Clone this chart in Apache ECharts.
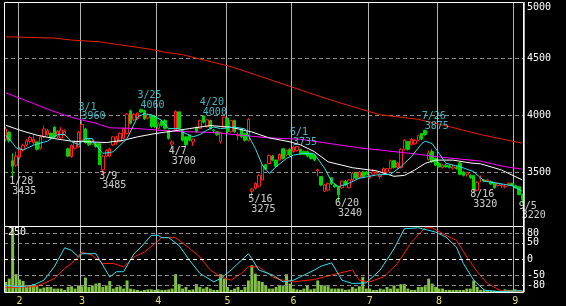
<!DOCTYPE html>
<html><head><meta charset="utf-8">
<script src="https://cdn.jsdelivr.net/npm/echarts@6/dist/echarts.min.js"></script>
<style>html,body{margin:0;padding:0;background:#000}#c{width:566px;height:306px}</style>
</head><body><div id="c"></div>
<script>
const dates = ['1/26','1/27','1/28','1/29',
'2/1','2/2','2/3','2/4','2/5','2/8','2/9','2/10','2/15','2/16','2/17','2/18','2/19','2/22','2/23','2/24','2/25','2/26',
'3/1','3/2','3/3','3/4','3/7','3/8','3/9','3/10','3/11','3/14','3/15','3/16','3/17','3/18','3/22','3/23','3/24','3/25','3/28','3/29','3/30','3/31',
'4/1','4/4','4/5','4/6','4/7','4/8','4/11','4/12','4/13','4/14','4/15','4/18','4/19','4/20','4/21','4/22','4/25','4/26','4/27','4/28',
'5/2','5/6','5/9','5/10','5/11','5/12','5/13','5/16','5/17','5/18','5/19','5/20','5/23','5/24','5/25','5/26','5/27','5/30','5/31',
'6/1','6/2','6/3','6/6','6/7','6/8','6/9','6/10','6/13','6/14','6/15','6/16','6/17','6/20','6/21','6/22','6/23','6/24','6/27','6/28','6/29','6/30',
'7/1','7/4','7/5','7/6','7/7','7/8','7/11','7/12','7/13','7/14','7/15','7/19','7/20','7/21','7/22','7/25','7/26','7/27','7/28','7/29',
'8/1','8/2','8/3','8/4','8/5','8/8','8/9','8/10','8/12','8/15','8/16','8/17','8/18','8/19','8/22','8/23','8/24','8/25','8/26','8/29','8/30','8/31',
'9/1','9/2','9/5'];

// [open, close, low, high]
const ohlc = [
[3790,3880,3770,3900],[3850,3775,3760,3860],[3600,3550,3435,3665],[3560,3640,3545,3680],
[3630,3710,3610,3720],[3700,3735,3680,3750],[3740,3775,3725,3790],[3770,3805,3750,3820],[3760,3790,3740,3825],
[3765,3700,3690,3775],[3710,3810,3700,3820],[3810,3880,3800,3910],[3830,3865,3820,3880],[3840,3800,3790,3850],
[3895,3810,3800,3905],[3815,3860,3800,3870],[3800,3870,3790,3895],[3830,3860,3820,3875],[3705,3640,3630,3715],
[3635,3735,3625,3745],[3710,3765,3700,3775],[3720,3850,3715,3860],
[3780,3920,3770,3960],[3880,3760,3750,3890],[3780,3740,3730,3790],[3745,3770,3740,3780],[3750,3725,3715,3760],
[3750,3565,3560,3755],[3520,3640,3485,3650],[3640,3690,3630,3700],[3640,3705,3630,3715],[3740,3810,3730,3815],
[3760,3800,3740,3820],[3770,3840,3760,3850],[3795,3880,3790,3895],[3840,4010,3830,4020],[4040,3930,3920,4050],
[3960,4010,3950,4020],[3970,4020,3960,4030],[4050,4030,4020,4060],[4040,3970,3960,4050],[3975,4005,3965,4015],
[4000,3900,3890,4010],[3990,3900,3890,4000],
[3885,3925,3875,3940],[3950,3910,3900,3960],[3955,3885,3875,3965],[3865,3795,3785,3875],[3745,3765,3700,3780],
[3870,4035,3860,4045],[4030,3885,3875,4035],[3865,3780,3770,3870],[3810,3740,3730,3815],[3825,3780,3770,3830],
[3765,3790,3730,3795],[3895,3855,3845,3900],[3885,3955,3880,3960],[3995,3940,3930,4000],[3900,3960,3890,3970],
[3955,3885,3875,3960],[3870,3865,3840,3880],[3855,3830,3820,3860],[3770,3850,3750,3855],[3885,3985,3880,3990],
[3975,3855,3845,3980],[3855,3955,3850,3960],[3955,3855,3845,3960],[3820,3830,3780,3850],[3880,3810,3800,3885],
[3840,3780,3770,3845],[3780,3965,3770,3975],[3330,3350,3275,3360],[3355,3400,3345,3410],[3375,3470,3365,3480],
[3430,3560,3425,3565],[3565,3525,3515,3570],[3575,3645,3570,3655],[3640,3605,3595,3650],[3605,3550,3540,3610],
[3605,3655,3600,3665],[3705,3620,3610,3710],[3650,3690,3640,3700],[3700,3650,3640,3710],
[3680,3720,3670,3735],[3690,3725,3680,3730],[3700,3660,3650,3705],[3680,3655,3650,3690],[3680,3640,3630,3690],
[3665,3620,3610,3670],[3650,3605,3595,3655],[3510,3520,3460,3530],[3460,3385,3375,3465],[3330,3385,3325,3395],
[3340,3400,3330,3405],[3450,3395,3385,3455],[3385,3370,3360,3395],[3370,3300,3240,3375],[3360,3420,3350,3425],
[3420,3385,3375,3430],[3360,3430,3355,3440],[3430,3490,3420,3500],[3490,3445,3435,3495],[3450,3500,3440,3510],
[3500,3460,3450,3505],[3500,3475,3470,3510],
[3450,3465,3440,3480],[3480,3500,3470,3525],[3490,3500,3485,3510],[3460,3475,3440,3490],[3490,3530,3485,3540],
[3500,3530,3495,3535],[3530,3600,3525,3610],[3600,3540,3530,3605],[3540,3580,3530,3590],[3540,3700,3530,3710],
[3700,3780,3690,3790],[3770,3700,3690,3775],[3740,3790,3735,3800],[3750,3780,3740,3790],[3780,3820,3770,3830],
[3840,3790,3780,3845],[3865,3830,3820,3875],[3610,3670,3600,3690],[3680,3590,3580,3700],[3620,3560,3550,3630],
[3575,3545,3540,3590],[3540,3560,3530,3570],[3560,3545,3540,3570],[3555,3540,3530,3565],[3535,3545,3520,3565],
[3540,3530,3520,3560],[3580,3480,3470,3590],[3500,3470,3460,3510],[3480,3495,3460,3500],[3470,3450,3440,3480],
[3470,3345,3320,3475],[3340,3410,3330,3420],[3440,3445,3410,3470],[3430,3420,3410,3440],[3420,3430,3410,3440],
[3415,3395,3385,3425],[3400,3360,3355,3410],[3380,3400,3370,3410],[3380,3385,3360,3395],[3370,3375,3355,3385],
[3385,3400,3375,3410],[3400,3380,3375,3405],[3380,3360,3355,3390],[3370,3300,3295,3375],[3300,3255,3220,3310]
];

const volume = [38,51,250,68,48,42,19,23,30,22,13,17,19,19,13,13,13,8,19,22,13,25,22,55,19,25,32,34,19,25,
42,13,19,22,13,44,13,10,8,5,8,10,10,8,10,8,8,10,13,68,30,13,19,8,10,30,19,13,19,13,
8,8,68,51,19,8,13,19,8,19,44,102,70,42,38,25,13,13,19,25,25,68,32,13,10,8,13,25,10,13,
44,25,25,22,13,13,13,13,8,10,19,13,22,57,13,13,8,8,13,10,19,13,25,13,30,30,13,8,8,19,
19,22,51,32,19,13,13,8,8,8,8,8,8,13,13,44,19,8,8,5,5,5,5,5,10,8,8,10,5,5];

const maShort = [['1/26',3825],['1/28',3754],['1/29',3713],['2/2',3693],['2/5',3737],['2/15',3772],['2/18',3830],['2/22',3830],
['2/24',3766],['2/26',3743],['3/2',3795],['3/4',3795],['3/7',3737],['3/9',3664],['3/14',3678],['3/18',3795],['3/24',3985],
['3/28',4014],['3/30',4005],['4/4',3956],['4/6',3883],['4/11',3883],['4/12',3853],['4/15',3810],['4/19',3830],['4/21',3868],
['4/25',3897],['4/27',3883],['5/9',3897],['5/12',3880],['5/17',3708],['5/19',3561],['5/23',3488],['5/25',3547],['5/30',3620],
['6/1',3649],['6/6',3664],['6/9',3660],['6/14',3532],['6/16',3415],['6/20',3371],['6/23',3401],['6/28',3445],['7/5',3474],
['7/11',3480],['7/14',3547],['7/20',3634],['7/25',3751],['7/26',3772],['7/28',3751],['8/1',3664],['8/3',3576],['8/9',3547],
['8/16',3503],['8/19',3420],['8/25',3400],['8/31',3380],['9/5',3330]];

const maMid = [['1/26',3912],['2/2',3860],['2/8',3825],['2/17',3795],['2/24',3772],['3/10',3760],['3/17',3780],['3/24',3810],
['3/31',3839],['4/7',3860],['4/14',3883],['4/22',3910],['5/6',3895],['5/16',3853],['5/23',3801],['5/31',3766],['6/3',3740],
['6/9',3680],['6/15',3590],['6/24',3538],['7/5',3510],['7/12',3462],['7/15',3470],['7/21',3518],['7/26',3576],['7/29',3605],
['8/5',3605],['8/15',3580],['8/18',3572],['8/26',3518],['9/5',3430]];

const maLong = [['1/26',4199],['2/5',4105],['2/16',4044],['2/24',3982],['3/7',3930],['3/11',3890],['3/24',3883],['4/7',3860],
['4/25',3848],['5/23',3801],['6/3',3789],['6/28',3713],['7/21',3660],['8/3',3626],['8/18',3596],['8/29',3547],['9/5',3525]];

const maLonger = [['1/26',4693],['2/17',4682],['2/24',4664],['3/8',4649],['3/15',4626],['3/23',4605],['3/30',4582],['4/5',4556],
['4/12',4535],['4/19',4497],['5/6',4430],['5/24',4307],['6/8',4193],['6/20',4114],['7/6',4005],['7/22',3965],['8/4',3900],
['8/18',3830],['9/5',3754]];

const oscFast = [['1/26',-79],['2/1',-84],['2/5',-79],['2/10',-64],['2/17',-23],['2/22',35],['2/24',27],['2/26',7],['3/1',17],
['3/7',17],['3/11',-54],['3/15',-38],['3/17',-38],['3/23',17],['3/25',37],['3/30',73],['4/1',73],['4/4',66],['4/6',66],
['4/11',42],['4/14',-3],['4/19',-43],['4/25',-69],['4/27',-59],['5/6',-33],['5/11',-3],['5/13',17],['5/16',2],['5/18',-33],
['5/24',-48],['5/27',-69],['6/1',-64],['6/9',-33],['6/13',-21],['6/16',-11],['6/21',-64],['6/24',-74],['6/30',-72],
['7/6',-33],['7/12',32],['7/15',93],['7/22',96],['7/29',83],['8/3',68],['8/8',37],['8/10',-13],['8/16',-64],['8/19',-94],
['8/25',-99],['9/5',-96]];

const oscSlow = [['1/26',-87],['2/5',-84],['2/10',-74],['2/17',-59],['2/22',-28],['2/24',-13],['3/1',22],['3/4',12],['3/9',-13],
['3/14',-13],['3/17',-23],['3/23',7],['3/28',22],['3/31',48],['4/4',66],['4/8',66],['4/13',42],['4/19',7],['4/22',-33],
['4/27',-54],['5/6',-64],['5/11',-43],['5/13',-23],['5/18',-23],['5/24',-54],['5/26',-62],['6/1',-69],['6/9',-62],
['6/16',-48],['6/24',-33],['6/28',-64],['7/1',-69],['7/7',-54],['7/13',-13],['7/20',52],['7/26',96],['7/28',96],
['8/3',73],['8/8',58],['8/12',7],['8/17',-38],['8/22',-74],['8/26',-97],['9/5',-97]];

const lowMarks = [['1/28',3435],['3/9',3485],['4/7',3700],['5/16',3275],['6/20',3240],['8/16',3320],['9/5',3220]];
const highMarks = [['3/1',3960],['3/25',4060],['4/20',4000],['6/1',3735],['7/26',3875]];

const oscLevels = [80, 50, 0, -50, -80];
const priceTicks = {min: 3000, max: 5000, step: 500};
const volumeMax = 250;

const FONT = 'DejaVu Sans Mono';
const month = s => s.split('/')[0];
const isMonthStart = i => i > 0 && month(dates[i]) !== month(dates[i - 1]);
const vline = {show: true, interval: (i) => isMonthStart(i), lineStyle: {color: '#b4b4b4', width: 1}};

const markLabel = (color, top) => ({
  show: true,
  position: top ? [-3, 2] : [-3, -2],
  align: 'left',
  verticalAlign: top ? 'bottom' : 'top',
  formatter: p => '{d|' + p.value[0] + '}\n{p|' + p.value[1] + '}',
  rich: {
    d: {color: color, fontFamily: FONT, fontSize: 10, lineHeight: 9.5},
    p: {color: color, fontFamily: FONT, fontSize: 10, lineHeight: 9.5, padding: [0, 0, 0, 3]}
  }
});

const chart = echarts.init(document.getElementById('c'));
chart.setOption({
  backgroundColor: '#000',
  animation: false,
  grid: [
    {left: 4, top: 2, width: 520, height: 226.67},
    {left: 4, top: 226.5, width: 520, height: 66}
  ],
  xAxis: [
    {type: 'category', gridIndex: 0, data: dates, boundaryGap: true,
     axisLine: {show: false}, axisTick: {show: false}, axisLabel: {show: false}, splitLine: vline},
    {type: 'category', gridIndex: 1, data: dates, boundaryGap: true,
     axisLine: {show: false}, axisTick: {show: false},
     axisLabel: {show: true, interval: (i) => isMonthStart(i), formatter: v => month(v),
                 color: '#e8dc70', fontFamily: FONT, fontSize: 10, margin: 4},
     splitLine: vline}
  ],
  yAxis: [
    {type: 'value', gridIndex: 0, position: 'right', min: priceTicks.min, max: priceTicks.max, interval: priceTicks.step,
     axisLine: {show: false}, axisTick: {show: false},
     axisLabel: {color: '#fff', fontFamily: FONT, fontSize: 10, margin: 3, showMinLabel: false,
                 verticalAlignMaxLabel: 'top', formatter: v => String(v)},
     splitLine: {show: true, showMinLine: false, showMaxLine: false, lineStyle: {color: '#8c8c8c', type: [4, 3], width: 1}}},
    {type: 'value', gridIndex: 1, min: 0, max: volumeMax, show: false},
    {type: 'value', gridIndex: 1, min: -100, max: 100, show: false}
  ],
  series: [
    {type: 'candlestick', xAxisIndex: 0, yAxisIndex: 0, data: ohlc, barWidth: 3,
     itemStyle: {color: '#000', color0: '#00d400', borderColor: '#ff2020', borderColor0: '#00d400', borderWidth: 1}},
    {type: 'line', xAxisIndex: 0, yAxisIndex: 0, data: maLonger, symbol: 'none', lineStyle: {color: '#e82000', width: 1}},
    {type: 'line', xAxisIndex: 0, yAxisIndex: 0, data: maLong, symbol: 'none', lineStyle: {color: '#ff00ff', width: 1}},
    {type: 'line', xAxisIndex: 0, yAxisIndex: 0, data: maMid, symbol: 'none', lineStyle: {color: '#ffffff', width: 1}},
    {type: 'line', xAxisIndex: 0, yAxisIndex: 0, data: maShort, symbol: 'none', lineStyle: {color: '#30e0f0', width: 1}},
    {type: 'scatter', xAxisIndex: 0, yAxisIndex: 0, data: lowMarks, symbolSize: 1,
     itemStyle: {color: 'rgba(0,0,0,0)'}, label: markLabel('#ffffff', false), z: 10},
    {type: 'scatter', xAxisIndex: 0, yAxisIndex: 0, data: highMarks, symbolSize: 1,
     itemStyle: {color: 'rgba(0,0,0,0)'}, label: markLabel('#50e4f0', true), z: 10},
    {type: 'bar', xAxisIndex: 1, yAxisIndex: 1, data: volume, barWidth: '85%', itemStyle: {color: '#80c440'}},
    {type: 'line', xAxisIndex: 1, yAxisIndex: 2, data: oscSlow, symbol: 'none', lineStyle: {color: '#ff2000', width: 1}},
    {type: 'line', xAxisIndex: 1, yAxisIndex: 2, data: oscFast, symbol: 'none', lineStyle: {color: '#30e4f4', width: 1},
     markLine: {silent: true, symbol: ['none', 'none'], animation: false,
       label: {show: true, position: 'end', formatter: p => String(p.value), color: '#fff', fontFamily: FONT, fontSize: 10, distance: 3},
       data: oscLevels.map(v => ({yAxis: v, lineStyle: {color: v === 0 ? '#ffffff' : '#8c8c8c', type: [4, 3], width: 1}}))}}
  ],
  graphic: [
    {type: 'rect', silent: true, z: 100, shape: {x: 4.5, y: 2.5, width: 519, height: 224}, style: {fill: 'none', stroke: '#fff', lineWidth: 1}},
    {type: 'rect', silent: true, z: 100, shape: {x: 4.5, y: 226.5, width: 519, height: 66}, style: {fill: 'none', stroke: '#fff', lineWidth: 1}},
    {type: 'text', silent: true, z: 100, left: 8, top: 227, style: {text: String(volumeMax), fill: '#fff', font: '10px "DejaVu Sans Mono"'}}
  ]
});
</script>
</body></html>
